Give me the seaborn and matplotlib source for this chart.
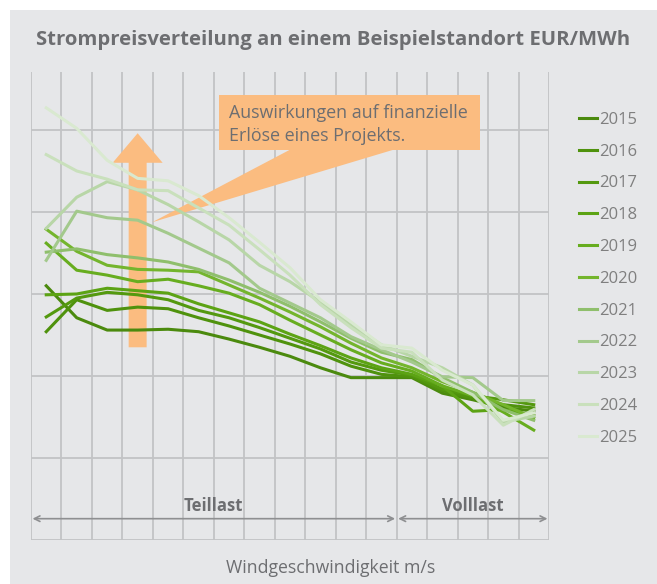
import pandas as pd
import seaborn as sns
import matplotlib.pyplot as plt
from matplotlib.patches import Rectangle, Polygon

# Strompreis je Windgeschwindigkeits-Stufe (Werte aus dem Bild geschätzt)
years = ['2015', '2016', '2017', '2018', '2019', '2020',
         '2021', '2022', '2023', '2024', '2025']
steps = list(range(17))

p2015 = [51.0, 47.1, 45.6, 45.6, 45.7, 45.4, 44.5, 43.5, 42.4, 41.0, 39.8, 39.8, 39.8, 37.9, 37.1, 36.2, 35.7]
p2016 = [45.4, 49.3, 48.0, 48.4, 48.2, 47.1, 46.1, 45.0, 43.9, 42.7, 41.2, 40.2, 39.9, 38.2, 37.3, 36.5, 36.1]
p2017 = [47.2, 49.5, 50.2, 49.9, 49.3, 48.0, 47.1, 45.9, 44.6, 43.3, 41.7, 40.7, 40.1, 38.4, 37.6, 37.1, 36.5]
p2018 = [49.9, 50.0, 50.7, 50.4, 50.1, 48.8, 47.7, 46.6, 45.1, 43.7, 42.2, 41.0, 40.2, 38.8, 35.7, 35.9, 35.2]
p2019 = [56.2, 52.9, 52.3, 51.5, 51.8, 51.0, 50.1, 48.7, 46.8, 45.0, 43.2, 41.6, 40.6, 38.8, 37.6, 35.6, 33.4]
p2020 = [57.9, 55.2, 53.5, 53.0, 52.9, 52.7, 51.1, 49.5, 47.8, 46.0, 44.0, 42.2, 41.0, 39.3, 38.0, 36.5, 34.9]
p2021 = [55.1, 55.5, 54.8, 54.4, 53.9, 53.0, 51.7, 50.2, 48.5, 46.6, 44.6, 42.9, 42.0, 39.8, 38.0, 35.9, 34.6]
p2022 = [54.1, 60.1, 59.3, 59.0, 57.4, 55.6, 53.8, 50.7, 48.9, 47.1, 44.8, 43.2, 41.7, 39.9, 39.8, 37.0, 37.0]
p2023 = [58.0, 61.8, 63.7, 62.7, 60.9, 58.8, 56.6, 53.5, 51.5, 49.0, 46.2, 43.8, 42.4, 41.0, 38.9, 34.4, 35.1]
p2024 = [67.0, 65.0, 64.0, 62.7, 62.6, 60.5, 58.4, 55.4, 52.3, 48.7, 45.9, 43.4, 42.9, 39.5, 37.7, 34.0, 35.9]
p2025 = [72.7, 70.2, 66.3, 64.1, 63.8, 62.0, 59.3, 56.3, 53.2, 49.3, 46.6, 43.8, 43.4, 40.7, 38.9, 34.6, 35.5]

colors = ['#4b8a0e', '#4f920d', '#54990f', '#5ca314', '#67ad1f', '#74b52d',
          '#8fbf6c', '#a3c98c', '#b8d6a7', '#c9e0bc', '#d9e9d0']

series = [p2015, p2016, p2017, p2018, p2019, p2020,
          p2021, p2022, p2023, p2024, p2025]
rows = []
for year, vals in zip(years, series):
    for s, v in zip(steps, vals):
        rows.append({'Jahr': year, 'Stufe': s, 'Preis': v})
df = pd.DataFrame(rows)

bg = '#e6e7e9'
grid = '#c2c3c5'
txt = '#6d6e71'
orange = '#fbbc80'

plt.rcParams['font.family'] = ['Open Sans', 'DejaVu Sans']

fig = plt.figure(figsize=(6.57, 5.84), dpi=100)
fig.patch.set_facecolor('white')
fig.add_artist(Rectangle((10 / 657, 0), 1, 574 / 584, transform=fig.transFigure,
                         facecolor=bg, edgecolor='none', zorder=0))

ax = fig.add_axes([31 / 657, 44 / 584, 518 / 657, 468 / 584])
ax.set_facecolor(bg)

# Pfeil nach oben
ax.arrow(3, 43.5, 0, 26.1, width=0.59, head_width=1.64, head_length=3.6,
         length_includes_head=True, color=orange, lw=0, zorder=1)

# Sprechblase
ax.add_patch(Rectangle((0.362, 0.833), 0.505, 0.118, transform=ax.transAxes,
                       facecolor=orange, edgecolor='none', zorder=1))
ax.add_patch(Polygon([(0.234, 0.679), (0.50, 0.834), (0.70, 0.834)],
                     closed=True, transform=ax.transAxes,
                     facecolor=orange, edgecolor='none', zorder=1))
ax.text(0.382, 0.932, 'Auswirkungen auf finanzielle\nErlöse eines Projekts.',
        transform=ax.transAxes, ha='left', va='top', fontsize=12.9,
        color=txt, linespacing=1.38, zorder=3)

sns.lineplot(data=df, x='Stufe', y='Preis', hue='Jahr', hue_order=years,
             palette=colors, linewidth=2.2, ax=ax, zorder=2)

ax.set_xlim(-0.5, 16.5)
ax.set_ylim(20, 77.07)
ax.set_xticks([x - 0.5 for x in range(18)])
ax.set_yticks([20, 30, 40, 50, 60, 70])
ax.set_xticklabels([])
ax.set_yticklabels([])
ax.tick_params(length=0)
ax.grid(True, color=grid, lw=1.3)
ax.set_axisbelow(True)
for sp in ax.spines.values():
    sp.set_visible(False)
ax.set_xlabel('')
ax.set_ylabel('')

# Teillast / Volllast
arrow_kw = dict(arrowstyle='<->', color='#8e8f91', lw=1.2, shrinkA=0, shrinkB=0,
                mutation_scale=10)
ax.annotate('', xy=(-0.45, 22.6), xytext=(11.45, 22.6), arrowprops=arrow_kw)
ax.annotate('', xy=(11.55, 22.6), xytext=(16.45, 22.6), arrowprops=arrow_kw)
ax.text(5.5, 24.1, 'Teillast', ha='center', va='center', fontsize=12,
        fontweight='bold', color=txt)
ax.text(14.0, 24.1, 'Volllast', ha='center', va='center', fontsize=12,
        fontweight='bold', color=txt)

handles, labels = ax.get_legend_handles_labels()
ax.get_legend().remove()
fig.legend(handles, labels, loc='upper left', bbox_to_anchor=(572 / 657, 1 - 105 / 584),
           frameon=False, fontsize=12, labelcolor='#7f7f7f', handlelength=1.1,
           handletextpad=0.1, labelspacing=0.95, borderaxespad=0)

fig.text(333 / 657, 1 - 40 / 584, 'Strompreisverteilung an einem Beispielstandort EUR/MWh',
         ha='center', va='center', fontsize=14.6, fontweight='bold', color=txt)
fig.text(331 / 657, 1 - 568 / 584, 'Windgeschwindigkeit m/s',
         ha='center', va='center', fontsize=12.7, color=txt)

fig.savefig('out.png', dpi=100, facecolor=fig.get_facecolor())
